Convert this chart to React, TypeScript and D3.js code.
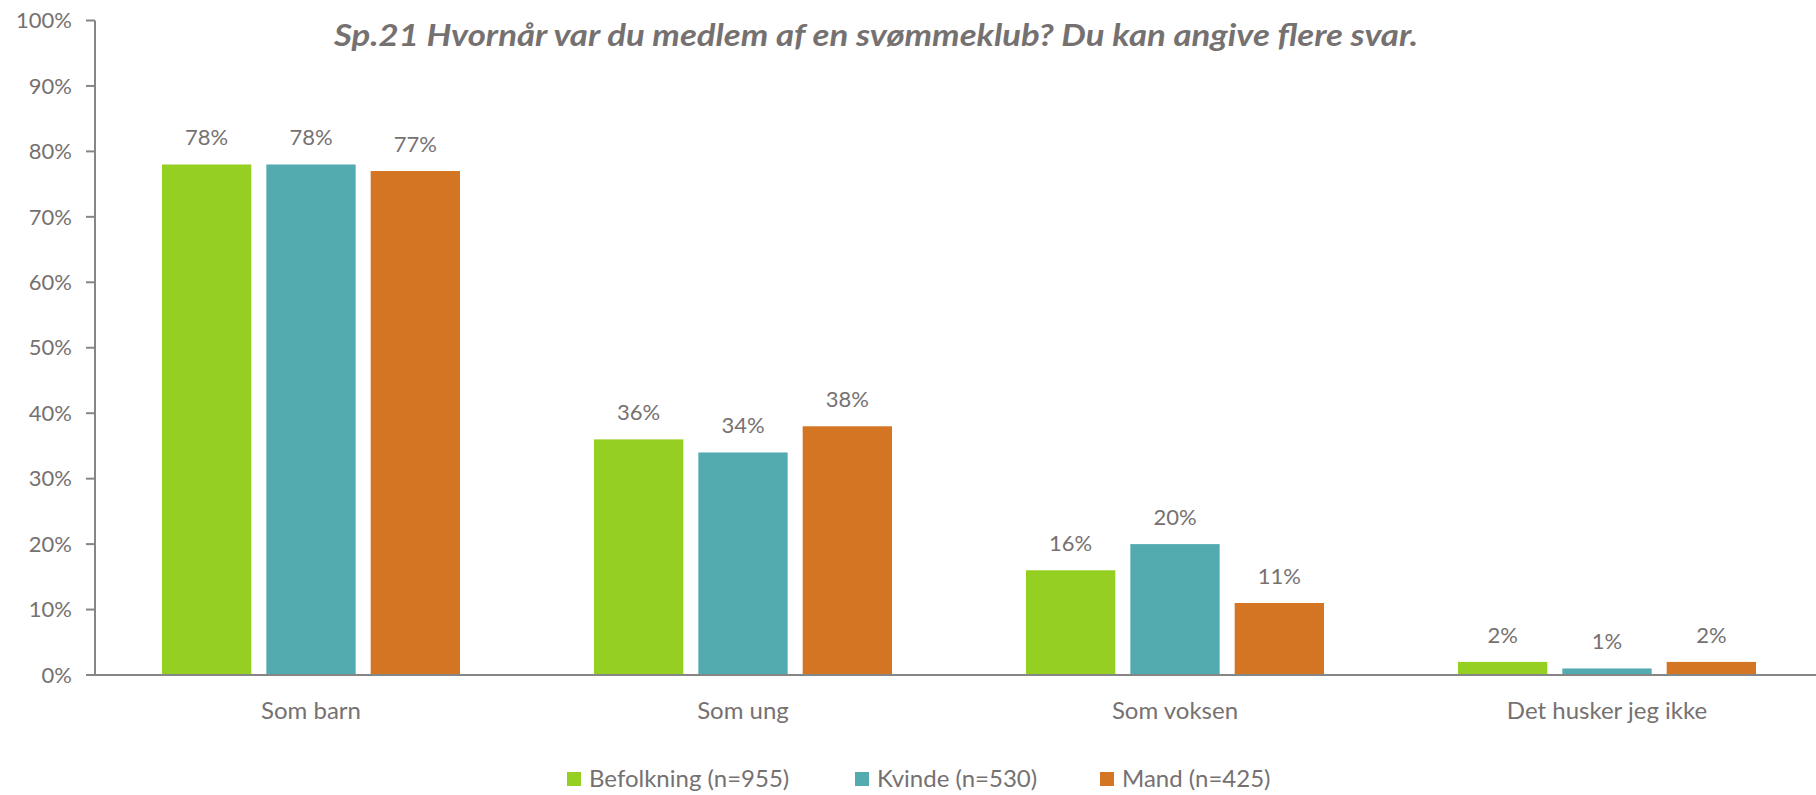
import React from 'react';
import * as d3 from 'd3';

const categories = ['Som barn', 'Som ung', 'Som voksen', 'Det husker jeg ikke'];
const seriesNames = ['Befolkning (n=955)', 'Kvinde (n=530)', 'Mand (n=425)'];
const befolkning = [78, 36, 16, 2];
const kvinde = [78, 34, 20, 1];
const mand = [77, 38, 11, 2];
const yTicks = [0, 10, 20, 30, 40, 50, 60, 70, 80, 90, 100];
const title = 'Sp.21 Hvornår var du medlem af en svømmeklub? Du kan angive flere svar.';

const COLORS = ['#95CF22', '#53ABB0', '#D47523'];
const TEXT = '#767171';
const FONT = 'Lato, "Open Sans", sans-serif';

const W = 1816, H = 795;
const left = 95, right = 1823, top = 20.5, bottom = 675;

export default function App() {
  const values = [befolkning, kvinde, mand];

  const x0 = d3.scaleBand<string>().domain(categories).range([left, right]).padding(0);
  const x1 = d3.scaleBand<string>().domain(seriesNames).range([67, 365]).paddingInner(0.144).paddingOuter(0);
  const y = d3.scaleLinear().domain([0, 100]).range([bottom, top]);

  const legendX = [567, 855, 1100];

  return (
    <svg width={W} height={H} style={{ position: 'absolute', left: 0, top: 0, fontFamily: FONT }}>
      <rect width={W} height={H} fill="#fff" />
      <text x={876} y={46} textAnchor="middle" fill={TEXT} fontSize={31} fontWeight="bold" fontStyle="italic"
        textLength={1084} lengthAdjust="spacingAndGlyphs">
        {title}
      </text>

      {yTicks.map(t => (
        <g key={t}>
          <line x1={left - 9} x2={left} y1={y(t)} y2={y(t)} stroke="#868686" strokeWidth={2} />
          <text x={72} y={y(t)} dy="0.35em" textAnchor="end" fill={TEXT} fontSize={22}>{t}%</text>
        </g>
      ))}

      {categories.map((c, ci) => (
        <g key={c} transform={`translate(${x0(c)},0)`}>
          {seriesNames.map((s, si) => {
            const v = values[si][ci];
            const bx = x1(s)!;
            return (
              <g key={s}>
                <rect x={bx} y={y(v)} width={x1.bandwidth()} height={bottom - y(v)} fill={COLORS[si]} />
                <text x={bx + x1.bandwidth() / 2} y={y(v) - 19} textAnchor="middle" fill={TEXT} fontSize={22}>{v}%</text>
              </g>
            );
          })}
          <text x={x0.bandwidth() / 2} y={719} textAnchor="middle" fill={TEXT} fontSize={24}>{c}</text>
        </g>
      ))}

      <line x1={left} x2={left} y1={top} y2={bottom} stroke="#868686" strokeWidth={2} />
      <line x1={left - 9} x2={right} y1={bottom} y2={bottom} stroke="#868686" strokeWidth={2} />

      {seriesNames.map((s, i) => (
        <g key={s} transform={`translate(${legendX[i]},779)`}>
          <rect x={0} y={-7} width={14} height={14} fill={COLORS[i]} />
          <text x={22} y={0} dy="0.35em" fill={TEXT} fontSize={24}>{s}</text>
        </g>
      ))}
    </svg>
  );
}
